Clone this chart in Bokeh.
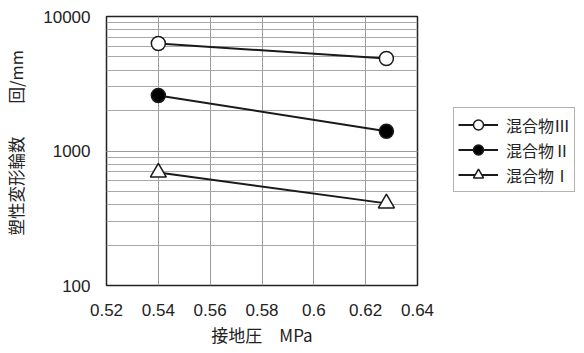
from bokeh.plotting import figure
from bokeh.models import (Legend, LegendItem, FixedTicker, LogTicker,
                          CustomJSTickFormatter, Range1d)
from bokeh.embed import file_html
from bokeh.resources import INLINE

# data
pressure = [0.54, 0.628]
mix3 = [6300, 4870]
mix2 = [2590, 1400]
mix1 = [692, 408]
series_names = ["混合物Ⅲ", "混合物Ⅱ", "混合物Ⅰ"]
x_ticks = [0.52, 0.54, 0.56, 0.58, 0.60, 0.62, 0.64]
y_ticks = [100, 1000, 10000]

JP = "Noto Sans CJK JP"
LAT = "Liberation Sans"

p = figure(width=584, height=353, output_backend="svg", toolbar_location=None,
           y_axis_type="log", x_range=Range1d(0.52, 0.64), y_range=Range1d(100, 10000),
           min_border_left=106, min_border_right=0, min_border_top=16, min_border_bottom=68)
p.frame_width = 311
p.frame_height = 269
p.background_fill_color = "white"
p.border_fill_color = "white"
p.outline_line_color = "#222222"
p.outline_line_width = 1.5

# axes
p.xaxis.ticker = FixedTicker(ticks=x_ticks)
p.xaxis.formatter = CustomJSTickFormatter(code="return tick.toFixed(2).replace(/0$/, '')")
p.yaxis.ticker = LogTicker(desired_num_ticks=3, num_minor_ticks=10)
p.yaxis.formatter = CustomJSTickFormatter(code="return Math.round(tick).toString()")
for ax in (p.xaxis[0], p.yaxis[0]):
    ax.axis_line_color = None
    ax.major_tick_line_color = None
    ax.minor_tick_line_color = None
    ax.major_tick_out = 0
    ax.minor_tick_out = 0
    ax.major_label_text_font = LAT
    ax.major_label_text_font_size = "17px"
    ax.major_label_text_color = "#222222"
    ax.axis_label_text_font = JP
    ax.axis_label_text_font_style = "normal"
    ax.axis_label_text_color = "#222222"
p.xaxis.axis_label_text_font_size = "17px"
p.yaxis.axis_label_text_font_size = "16.5px"
p.xaxis.major_label_standoff = 18
p.yaxis.major_label_standoff = 16
p.xaxis.axis_label = "接地圧　MPa"
p.yaxis.axis_label = "\u3000塑性変形輪数\u3000\u3000回/mm"
p.xaxis.axis_label_standoff = 3
p.yaxis.axis_label_standoff = 12

# grids
p.xgrid.grid_line_color = "#9a9a9a"
p.xgrid.grid_line_width = 1
p.ygrid.grid_line_color = "#9a9a9a"
p.ygrid.grid_line_width = 1
p.ygrid.minor_grid_line_color = "#a8a8a8"
p.ygrid.minor_grid_line_width = 1
p.ygrid.ticker = p.yaxis.ticker

items = []
specs = [(mix3, "circle", "white", 14), (mix2, "circle", "black", 14), (mix1, "triangle", "white", 16)]
for name, (vals, marker, fill, size) in zip(series_names, specs):
    ln = p.line(pressure, vals, line_color="#1a1a1a", line_width=2)
    sc = p.scatter(pressure, vals, marker=marker, size=size, fill_color=fill,
                   line_color="#1a1a1a", line_width=1.5)
    items.append(LegendItem(label=name, renderers=[ln, sc]))

legend = Legend(items=items, location="top_left")
legend.label_text_font = JP
legend.label_text_font_size = "16px"
legend.label_text_color = "#222222"
legend.glyph_width = 40
legend.glyph_height = 25
legend.label_height = 25
legend.label_standoff = 8
legend.spacing = 0
legend.padding = 4
legend.margin = 0
legend.border_line_color = "#666666"
legend.border_line_width = 1
legend.background_fill_alpha = 1
p.add_layout(legend, "right")
legend.location = (36, 93)

open("out.html", "w").write(file_html(p, INLINE))
